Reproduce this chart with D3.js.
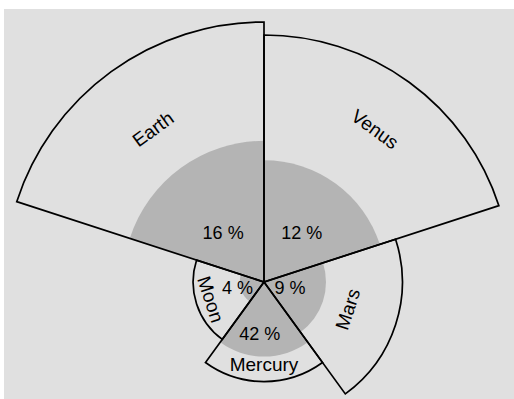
<!DOCTYPE html>
<html>
<head>
<meta charset="utf-8">
<script src="https://cdn.jsdelivr.net/npm/d3@7"></script>
<style>
  html, body { margin: 0; padding: 0; background: #ffffff; }
  svg { display: block; }
  text { font-family: "Liberation Sans", Arial, Helvetica, sans-serif; fill: #000; }
</style>
</head>
<body>
<svg id="chart" width="514" height="399"></svg>
<script>
// ---- data ----
const bodies = ["Venus", "Mars", "Mercury", "Moon", "Earth"];   // clockwise from 12 o'clock
const bodyRadiusKm = [6052, 3390, 2440, 1737, 6371];              // outer slice radius
const corePercent = [12, 9, 42, 4, 16];                           // core share of volume
const percentLabels = ["12 %", "9 %", "42 %", "4 %", "16 %"];

// ---- layout (not data) ----
const W = 514, H = 399;
const cx = 264, cy = 282;
const nameLabelR = [189, 88, 82, 56, 189];        // px from centre
const pctLabelPolar = [[37.6, 62], [102, 26.5], [184.8, 52], [258, 27], [-39.7, 64]]; // [deg, px]

const svg = d3.select("#chart");
svg.append("rect").attr("x", 4).attr("y", 9).attr("width", W - 4).attr("height", H - 9)
  .attr("fill", "#e0e0e0");

const r = d3.scaleLinear().domain([0, 6371]).range([0, 260]);
const n = bodies.length;
const step = 2 * Math.PI / n;

const data = bodies.map((name, i) => ({
  name,
  outer: r(bodyRadiusKm[i]),
  core: r(bodyRadiusKm[i] * Math.cbrt(corePercent[i] / 100)),
  start: i * step,
  end: (i + 1) * step,
  pct: percentLabels[i],
  i
}));

const g = svg.append("g").attr("transform", `translate(${cx},${cy})`);
const arc = d3.arc();

// core fills
g.selectAll("path.core").data(data).join("path")
  .attr("class", "core")
  .attr("d", d => arc({ innerRadius: 0, outerRadius: d.core, startAngle: d.start, endAngle: d.end }))
  .attr("fill", "#b4b4b4");

// slice outlines
g.selectAll("path.slice").data(data).join("path")
  .attr("class", "slice")
  .attr("d", d => arc({ innerRadius: 0, outerRadius: d.outer, startAngle: d.start, endAngle: d.end }))
  .attr("fill", "none")
  .attr("stroke", "#000")
  .attr("stroke-width", 1.7)
  .attr("stroke-linejoin", "miter");

// name labels
const deg = a => a * 180 / Math.PI;
g.selectAll("text.name").data(data).join("text")
  .attr("class", "name")
  .attr("text-anchor", "middle")
  .attr("dy", "0.35em")
  .attr("font-size", 19)
  .attr("transform", d => {
    const mid = (d.start + d.end) / 2;
    const rr = nameLabelR[d.i];
    const x = rr * Math.sin(mid), y = -rr * Math.cos(mid);
    let rot = deg(mid);
    if (rot > 90 && rot < 270) rot -= 180;
    if (rot >= 270) rot -= 360;
    return `translate(${x},${y}) rotate(${rot})`;
  })
  .text(d => d.name);

// percent labels
g.selectAll("text.pct").data(data).join("text")
  .attr("class", "pct")
  .attr("text-anchor", "middle")
  .attr("dy", "0.35em")
  .attr("font-size", 18)
  .attr("x", d => { const [a, rr] = pctLabelPolar[d.i]; return rr * Math.sin(a * Math.PI / 180); })
  .attr("y", d => { const [a, rr] = pctLabelPolar[d.i]; return -rr * Math.cos(a * Math.PI / 180); })
  .text(d => d.pct);
</script>
</body>
</html>
